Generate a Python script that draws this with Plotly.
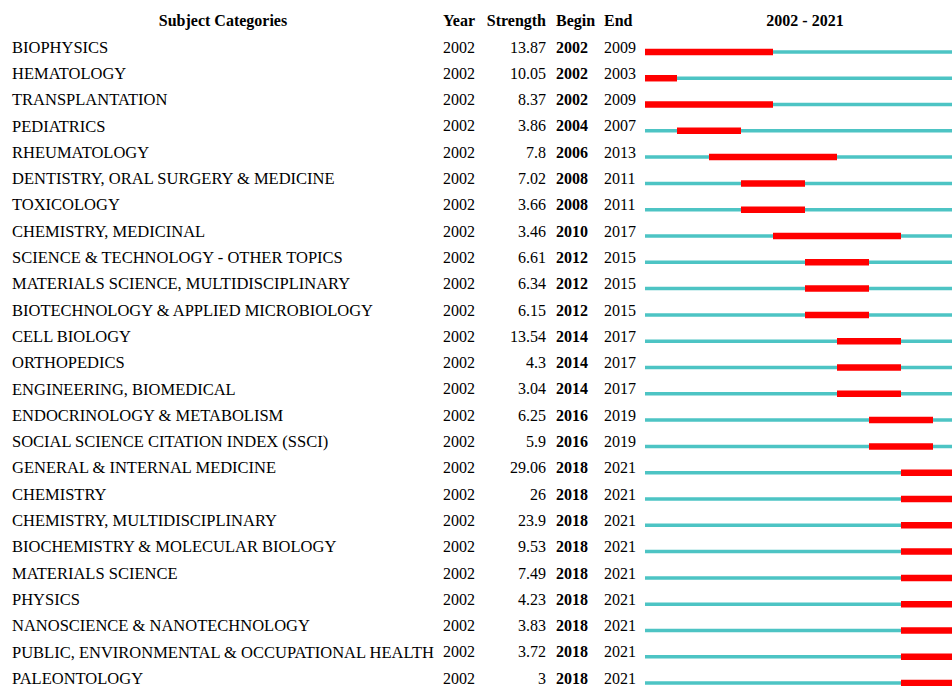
import plotly.graph_objects as go

categories = [
    "BIOPHYSICS", "HEMATOLOGY", "TRANSPLANTATION", "PEDIATRICS", "RHEUMATOLOGY",
    "DENTISTRY, ORAL SURGERY & MEDICINE", "TOXICOLOGY", "CHEMISTRY, MEDICINAL",
    "SCIENCE & TECHNOLOGY - OTHER TOPICS", "MATERIALS SCIENCE, MULTIDISCIPLINARY",
    "BIOTECHNOLOGY & APPLIED MICROBIOLOGY", "CELL BIOLOGY", "ORTHOPEDICS",
    "ENGINEERING, BIOMEDICAL", "ENDOCRINOLOGY & METABOLISM",
    "SOCIAL SCIENCE CITATION INDEX (SSCI)", "GENERAL & INTERNAL MEDICINE", "CHEMISTRY",
    "CHEMISTRY, MULTIDISCIPLINARY", "BIOCHEMISTRY & MOLECULAR BIOLOGY", "MATERIALS SCIENCE",
    "PHYSICS", "NANOSCIENCE & NANOTECHNOLOGY", "PUBLIC, ENVIRONMENTAL & OCCUPATIONAL HEALTH",
    "PALEONTOLOGY",
]
year = [2002] * 25
strength = [13.87, 10.05, 8.37, 3.86, 7.8, 7.02, 3.66, 3.46, 6.61, 6.34, 6.15, 13.54, 4.3,
            3.04, 6.25, 5.9, 29.06, 26, 23.9, 9.53, 7.49, 4.23, 3.83, 3.72, 3]
begin = [2002, 2002, 2002, 2004, 2006, 2008, 2008, 2010, 2012, 2012, 2012, 2014, 2014,
         2014, 2016, 2016, 2018, 2018, 2018, 2018, 2018, 2018, 2018, 2018, 2018]
end = [2009, 2003, 2009, 2007, 2013, 2011, 2011, 2017, 2015, 2015, 2015, 2017, 2017,
       2017, 2019, 2019, 2021, 2021, 2021, 2021, 2021, 2021, 2021, 2021, 2021]
headers = ["Subject Categories", "Year", "Strength", "Begin", "End"]
first_year, last_year = 2002, 2021

W, H = 952, 686
n = len(categories)
rows = list(range(n))
FONT = "Liberation Serif, Times New Roman, serif"
FS = 16
FS_CAT = 16.5
TEAL = "#4DC4C4"
RED = "#FF0000"

fig = go.Figure()

def text_col(xpos, texts, pos, bold=False, size=FS):
    fig.add_trace(go.Scatter(
        x=[xpos] * len(texts), y=rows, mode="text",
        text=[f"<b>{t}</b>" if bold else str(t) for t in texts],
        textposition=pos, textfont=dict(family=FONT, size=size, color="black"),
        hoverinfo="skip", showlegend=False, xaxis="x", yaxis="y"))

text_col(12, categories, "middle right", size=FS_CAT)
text_col(443, year, "middle right")
text_col(546, [f"{v:g}" for v in strength], "middle left")
text_col(556, begin, "middle right", bold=True)
text_col(604, end, "middle right")

# header
hx = [223, 443, 546, 556, 604]
hpos = ["middle center", "middle right", "middle left", "middle right", "middle right"]
for t, x, p in zip(headers, hx, hpos):
    fig.add_trace(go.Scatter(x=[x], y=[-1], mode="text", text=[f"<b>{t}</b>"],
                             textposition=p, textfont=dict(family=FONT, size=FS, color="black"),
                             hoverinfo="skip", showlegend=False, xaxis="x", yaxis="y"))
fig.add_trace(go.Scatter(x=[(first_year + last_year + 1) / 2], y=[-1], mode="text",
                         text=[f"<b>{first_year} - {last_year}</b>"], textposition="middle center",
                         textfont=dict(family=FONT, size=FS, color="black"),
                         hoverinfo="skip", showlegend=False, xaxis="x2", yaxis="y"))

# timeline bars
off = 0.13
tx, ty, rx, ry = [], [], [], []
for i in rows:
    tx += [first_year, last_year + 1, None]
    ty += [i + off, i + off, None]
    rx += [begin[i], end[i] + 1, None]
    ry += [i + off, i + off, None]
fig.add_trace(go.Scatter(x=tx, y=ty, mode="lines", line=dict(color=TEAL, width=3.5),
                         hoverinfo="skip", showlegend=False, xaxis="x2", yaxis="y"))
fig.add_trace(go.Scatter(x=rx, y=ry, mode="lines", line=dict(color=RED, width=6.5),
                         hoverinfo="skip", showlegend=False, xaxis="x2", yaxis="y"))

# layout: row 0 at pixel ~48.5, spacing 26.3
top_px, step = 48.5, 26.3
y_top = -top_px / step
y_bot = (H - top_px) / step
tl_left = 645.0
year_px = 16.0
x2_max = first_year + (W - tl_left) / year_px

fig.update_layout(
    width=W, height=H, margin=dict(l=0, r=0, t=0, b=0),
    paper_bgcolor="white", plot_bgcolor="white",
    xaxis=dict(range=[0, W], domain=[0, 1], visible=False, fixedrange=True, anchor="y"),
    xaxis2=dict(range=[first_year, x2_max], domain=[tl_left / W, 1], anchor="y",
                visible=False, fixedrange=True),
    yaxis=dict(range=[y_bot, y_top], visible=False, fixedrange=True),
)
fig.write_html("out.html", config={"displayModeBar": False},
               post_script="document.body.style.margin='0';")
